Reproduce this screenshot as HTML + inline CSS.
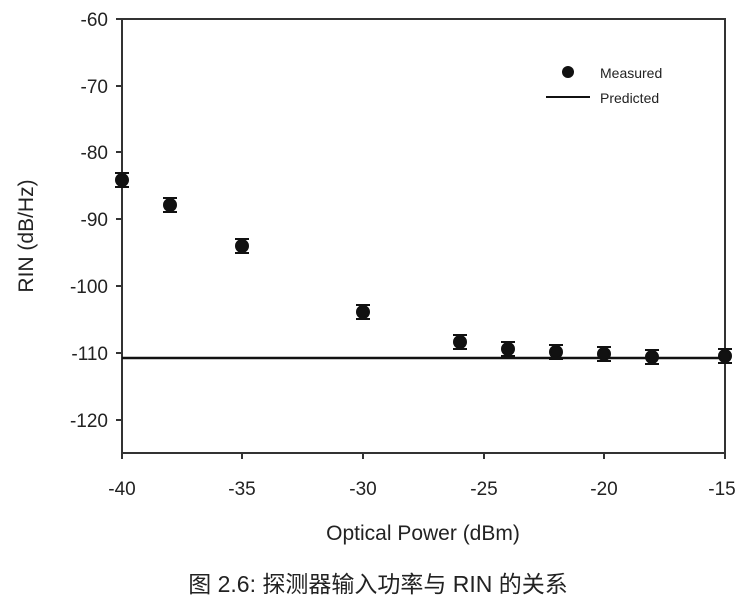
<!DOCTYPE html><html><head><style>body{margin:0;background:#fff}</style></head><body>
<svg width="755" height="606" xmlns="http://www.w3.org/2000/svg" font-family="Liberation Sans, sans-serif">
<rect x="122" y="19" width="603" height="434" fill="none" stroke="#333" stroke-width="2"/>
<g stroke="#333" stroke-width="2">
<line x1="116" y1="19" x2="122" y2="19"/><line x1="116" y1="86" x2="122" y2="86"/><line x1="116" y1="152" x2="122" y2="152"/><line x1="116" y1="219" x2="122" y2="219"/><line x1="116" y1="286" x2="122" y2="286"/><line x1="116" y1="353" x2="122" y2="353"/><line x1="116" y1="420" x2="122" y2="420"/>
<line x1="122" y1="453" x2="122" y2="459"/><line x1="242" y1="453" x2="242" y2="459"/><line x1="363" y1="453" x2="363" y2="459"/><line x1="484" y1="453" x2="484" y2="459"/><line x1="604" y1="453" x2="604" y2="459"/><line x1="725" y1="453" x2="725" y2="459"/>
</g>
<g font-size="19" fill="#222" text-anchor="end">
<text x="108" y="26">-60</text><text x="108" y="93">-70</text><text x="108" y="159">-80</text><text x="108" y="226">-90</text><text x="108" y="293">-100</text><text x="108" y="360">-110</text><text x="108" y="427">-120</text></g>
<g font-size="19" fill="#222" text-anchor="middle">
<text x="122" y="495">-40</text><text x="242" y="495">-35</text><text x="363" y="495">-30</text><text x="484" y="495">-25</text><text x="604" y="495">-20</text><text x="722" y="495">-15</text>
<text x="423" y="540" font-size="21">Optical Power (dBm)</text>
<text transform="translate(33,236) rotate(-90)" font-size="21">RIN (dB/Hz)</text>
<text x="378" y="592" font-size="23" font-family="Liberation Sans, Noto Sans CJK SC, sans-serif">图 2.6:  探测器输入功率与 RIN 的关系</text></g>
<line x1="122" y1="358" x2="725" y2="358" stroke="#111" stroke-width="2.5"/>
<g fill="#111" stroke="#111" stroke-width="2">
<circle cx="122" cy="180" r="6"/><path d="M115 173h14M115 187h14M122 173v14"/>
<circle cx="170" cy="205" r="6"/><path d="M163 198h14M163 212h14M170 198v14"/>
<circle cx="242" cy="246" r="6"/><path d="M235 239h14M235 253h14M242 239v14"/>
<circle cx="363" cy="312" r="6"/><path d="M356 305h14M356 319h14M363 305v14"/>
<circle cx="460" cy="342" r="6"/><path d="M453 335h14M453 349h14M460 335v14"/>
<circle cx="508" cy="349" r="6"/><path d="M501 342h14M501 356h14M508 342v14"/>
<circle cx="556" cy="352" r="6"/><path d="M549 345h14M549 359h14M556 345v14"/>
<circle cx="604" cy="354" r="6"/><path d="M597 347h14M597 361h14M604 347v14"/>
<circle cx="652" cy="357" r="6"/><path d="M645 350h14M645 364h14M652 350v14"/>
<circle cx="725" cy="356" r="6"/><path d="M718 349h14M718 363h14M725 349v14"/>
</g>
<circle cx="568" cy="72" r="6" fill="#111"/>
<line x1="546" y1="97" x2="590" y2="97" stroke="#111" stroke-width="2"/>
<text x="600" y="78" font-size="14" fill="#222">Measured</text>
<text x="600" y="103" font-size="14" fill="#222">Predicted</text>
</svg></body></html>
